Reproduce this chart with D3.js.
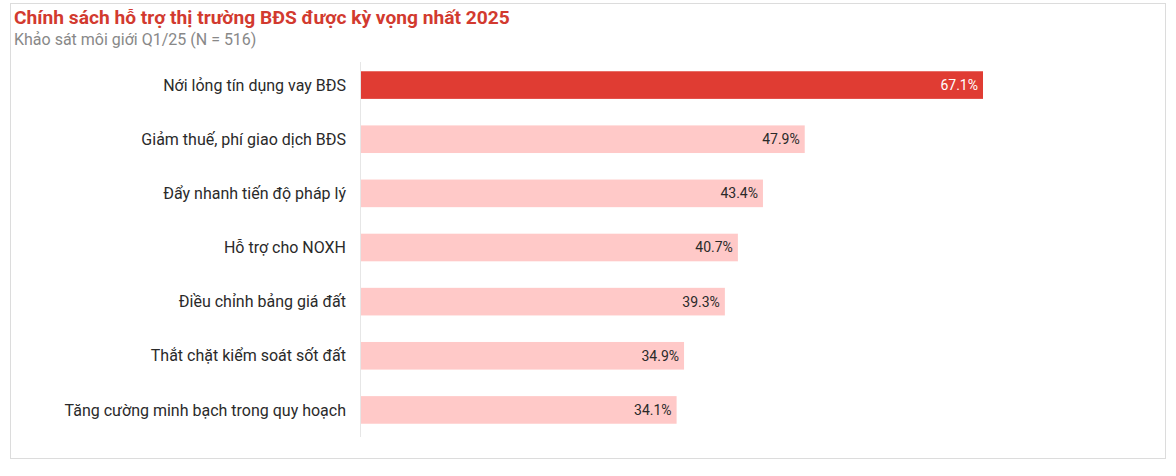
<!DOCTYPE html>
<html><head><meta charset="utf-8">
<script src="https://cdn.jsdelivr.net/npm/d3@7"></script>
<style>body{margin:0;background:#fff;font-family:Roboto,"Noto Sans",sans-serif;}</style>
</head><body>
<svg id="c" width="1176" height="476"></svg>
<script>
const categories = ["Nới lỏng tín dụng vay BĐS","Giảm thuế, phí giao dịch BĐS","Đẩy nhanh tiến độ pháp lý","Hỗ trợ cho NOXH","Điều chỉnh bảng giá đất","Thắt chặt kiểm soát sốt đất","Tăng cường minh bạch trong quy hoạch"];
const values = [67.1,47.9,43.4,40.7,39.3,34.9,34.1];
const highlight = [true,false,false,false,false,false,false];
const title = "Chính sách hỗ trợ thị trường BĐS được kỳ vọng nhất 2025";
const subtitle = "Khảo sát môi giới Q1/25 (N = 516)";

const svg = d3.select("#c");
svg.append("rect").attr("x",10.5).attr("y",3.5).attr("width",1155).attr("height",455)
  .attr("fill","#fff").attr("stroke","#dcdcdc");
svg.append("text").attr("x",14).attr("y",24).attr("fill","#d23a2f")
  .attr("font-size",19.2).attr("font-weight","bold").text(title);
svg.append("text").attr("x",14).attr("y",45).attr("fill","#888")
  .attr("font-size",16).text(subtitle);

const x0 = 360;
const x = d3.scaleLinear().domain([0,67.1]).range([x0,983]);
const y = d3.scaleBand().domain(categories).range([58,437]).paddingInner(0.49).paddingOuter(0.245);

svg.append("line").attr("x1",x0+0.5).attr("x2",x0+0.5).attr("y1",62).attr("y2",437)
  .attr("stroke","#e6e6e6");

svg.selectAll("rect.bar").data(categories).join("rect").attr("class","bar")
  .attr("x",x(0)+1).attr("y",d=>y(d)).attr("height",y.bandwidth())
  .attr("width",(d,i)=>x(values[i])-x(0)-1)
  .attr("fill",(d,i)=>highlight[i]?"#e03c33":"#ffc9c8");

svg.selectAll("text.lab").data(categories).join("text").attr("class","lab")
  .attr("x",346).attr("y",d=>y(d)+y.bandwidth()/2).attr("dy","0.35em")
  .attr("text-anchor","end").attr("font-size",16).attr("fill","#2a2a2a").text(d=>d);

svg.selectAll("text.val").data(categories).join("text").attr("class","val")
  .attr("x",(d,i)=>x(values[i])-5).attr("y",d=>y(d)+y.bandwidth()/2).attr("dy","0.35em")
  .attr("text-anchor","end").attr("font-size",14)
  .attr("fill",(d,i)=>highlight[i]?"#fff":"#2a2a2a")
  .text((d,i)=>values[i].toFixed(1)+"%");
</script>
</body></html>
